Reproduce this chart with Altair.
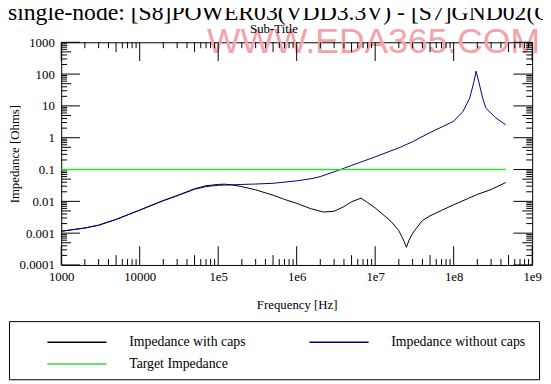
import altair as alt
import pandas as pd

# ---------------- data ----------------
freq_without = [1e3, 2e3, 3e3, 5e3, 1e4, 2e4, 3e4, 5e4, 7e4, 1e5, 1.5e5, 2e5, 3e5, 5e5,
                1e6, 1.57e6, 2e6, 3e6, 4.1e6, 5e6, 6.8e6, 1e7, 2e7, 3e7, 5e7, 1e8,
                1.32e8, 1.6e8, 1.81e8, 1.93e8, 2.09e8, 2.34e8, 2.57e8, 3.44e8, 4.6e8]
imp_without = [0.00115, 0.00145, 0.00178, 0.0027, 0.0053, 0.0105, 0.015, 0.024, 0.029, 0.032,
               0.033, 0.034, 0.035, 0.037, 0.044, 0.052, 0.06, 0.085, 0.112, 0.135, 0.177,
               0.25, 0.48, 0.75, 1.45, 3.3, 6.8, 17.6, 57, 123, 57, 17.6, 8.6, 4.2, 2.55]

freq_with = [1e3, 2e3, 3e3, 5e3, 1e4, 2e4, 3e4, 5e4, 7e4, 1e5, 1.2e5, 1.5e5, 2e5, 3e5, 5e5,
             7e5, 1e6, 1.5e6, 2.2e6, 3e6, 4e6, 5e6, 6.6e6, 8e6, 1e7, 1.3e7, 1.6e7, 2e7,
             2.3e7, 2.5e7, 2.7e7, 3e7, 4e7, 5e7, 7e7, 1e8, 2e8, 3e8, 4.6e8]
imp_with = [0.00115, 0.00145, 0.00178, 0.0027, 0.0053, 0.0106, 0.0152, 0.0248, 0.031, 0.034,
            0.0347, 0.033, 0.029, 0.023, 0.0156, 0.0115, 0.0087, 0.0059, 0.0046, 0.0049,
            0.0068, 0.0097, 0.0126, 0.0092, 0.0062, 0.0036, 0.0023, 0.0012, 0.0006, 0.00036,
            0.0006, 0.001, 0.0025, 0.0035, 0.0052, 0.0078, 0.0165, 0.0236, 0.039]

freq_target = [1e3, 4.6e8]
imp_target = [0.1, 0.1]

series_names = ["Impedance with caps", "Impedance without caps", "Target Impedance"]
series_colors = ["#000000", "#000080", "#33dd33"]

title_text = "single-node: [S8]POWER03(VDD3.3V) - [S7]GND02(GND)"
subtitle_text = "Sub-Title"
watermark_text = "WWW.EDA365.COM"
x_title = "Frequency [Hz]"
y_title = "Impedance [Ohms]"

x_major = [1e3, 1e4, 1e5, 1e6, 1e7, 1e8, 1e9]
y_major = [1e-4, 1e-3, 1e-2, 1e-1, 1, 10, 100, 1000]
x_mid = [5 * 10 ** e for e in range(3, 9)]
y_mid = [5 * 10.0 ** e for e in range(-4, 3)]
x_minor = [m * 10 ** e for e in range(3, 9) for m in (2, 3, 4, 6, 7, 8, 9)]
y_minor = [m * 10.0 ** e for e in range(-4, 3) for m in (2, 3, 4, 6, 7, 8, 9)]

# ---------------- tables ----------------
df = pd.concat([
    pd.DataFrame({"freq": freq_with, "imp": imp_with, "series": series_names[0]}),
    pd.DataFrame({"freq": freq_without, "imp": imp_without, "series": series_names[1]}),
], ignore_index=True)
df_target = pd.DataFrame({"freq": freq_target, "imp": imp_target, "series": series_names[2]})

SERIF = "Liberation Serif"
W, H = 478, 226
MAJOR, MID, MINOR = 19, 10, 6

xscale = alt.Scale(type="log", domain=[1e3, 1e9], nice=False)
yscale = alt.Scale(type="log", domain=[1e-4, 1e3], nice=False)

x_label_axis = alt.Axis(
    orient="bottom", values=x_major, ticks=False, tickSize=0, domain=False, grid=False,
    labelExpr="datum.value < 1e5 ? format(datum.value, 'd') : '1e' + format(log(datum.value) / LN10, '.0f')",
    labelPadding=6, labelFont=SERIF, labelFontSize=13, labelColor="black",
    labelFlush=False, labelOverlap=False,
    title=x_title, titleFont=SERIF, titleFontSize=13, titleFontWeight="normal",
    titleColor="black", titleX=W / 2, titleY=40, titleAlign="center", titleBaseline="middle")

y_label_axis = alt.Axis(
    orient="left", values=y_major, ticks=False, tickSize=0, domain=False, grid=False,
    labelExpr="format(datum.value, '~g')",
    labelPadding=7, labelFont=SERIF, labelFontSize=13, labelColor="black",
    labelFlush=False, labelOverlap=False,
    title=y_title, titleFont=SERIF, titleFontSize=13, titleFontWeight="normal",
    titleColor="black", titleX=-47, titleY=H / 2, titleAngle=-90,
    titleAlign="center", titleBaseline="middle")

legend = alt.Legend(
    orient="none", legendX=-53, legendY=286.5, columns=2, direction="horizontal", title=None,
    symbolType="M-28,0M229,0M0,12M0,0H60", symbolSize=4, symbolStrokeWidth=1.5,
    symbolOffset=21, symbolOpacity=1, labelOffset=76, labelFont=SERIF, labelFontSize=14,
    labelColor="black", labelLimit=300, labelBaseline="middle",
    padding=11, rowPadding=0, columnPadding=3, gridAlign="each")

color_scale = alt.Scale(domain=series_names, range=series_colors)

lines = alt.Chart(df).mark_line(strokeWidth=1).encode(
    x=alt.X("freq:Q", scale=xscale, axis=x_label_axis),
    y=alt.Y("imp:Q", scale=yscale, axis=y_label_axis),
    color=alt.Color("series:N", scale=color_scale, legend=legend),
)

target = alt.Chart(df_target).mark_line(strokeWidth=1.5, color=series_colors[2]).encode(
    x=alt.X("freq:Q", scale=xscale, axis=None),
    y=alt.Y("imp:Q", scale=yscale, axis=None),
)


def x_ticks(values, length, top):
    src = pd.DataFrame({"v": values})
    if top:
        ys = dict(y=alt.value(0), y2=alt.value(length))
    else:
        ys = dict(y=alt.value(H), y2=alt.value(H - length))
    return alt.Chart(src).mark_rule(color="black", strokeWidth=1).encode(
        x=alt.X("v:Q", scale=xscale, axis=None), **ys)


def y_ticks(values, length, right):
    src = pd.DataFrame({"v": values})
    if right:
        xs = dict(x=alt.value(W), x2=alt.value(W - length))
    else:
        xs = dict(x=alt.value(0), x2=alt.value(length))
    return alt.Chart(src).mark_rule(color="black", strokeWidth=1).encode(
        y=alt.Y("v:Q", scale=yscale, axis=None), **xs)


tick_layers = []
for vals, ln in ((x_major, MAJOR), (x_mid, MID), (x_minor, MINOR)):
    tick_layers.append(x_ticks(vals, ln, False))
    tick_layers.append(x_ticks(vals, ln, True))
for vals, ln in ((y_major, MAJOR), (y_mid, MID), (y_minor, MINOR)):
    tick_layers.append(y_ticks(vals, ln, False))
    tick_layers.append(y_ticks(vals, ln, True))

one = pd.DataFrame({"t": [0]})

# frame round the legend (decoration, in plot-relative pixels)
legend_box = alt.Chart(one).mark_rect(
    fill="white", stroke="black", strokeWidth=1,
).encode(x=alt.value(-52.5), x2=alt.value(485.5), y=alt.value(283.5), y2=alt.value(342.5))

watermark = alt.Chart(one).mark_text(
    text=watermark_text, align="left", baseline="alphabetic",
    font="Liberation Sans", fontSize=36, color="#f4a3aa",
).encode(x=alt.value(148), y=alt.value(11))

title = alt.Chart(one).mark_text(
    text=title_text, align="left", baseline="alphabetic", font=SERIF, fontSize=24,
    color="black",
).encode(x=alt.value(-54), y=alt.value(-23))

subtitle = alt.Chart(one).mark_text(
    text=subtitle_text, align="center", baseline="alphabetic", font=SERIF, fontSize=13,
    color="black",
).encode(x=alt.value(216), y=alt.value(-9))

chart = alt.layer(legend_box, lines, watermark, *tick_layers, target, title, subtitle).resolve_axis(
    x="independent", y="independent"
).properties(
    width=W, height=H,
    autosize=alt.AutoSizeParams(type="none"),
    padding={"left": 54, "top": 32, "right": 11, "bottom": 118},
    background="white",
).configure_view(stroke="black", strokeWidth=1)

chart.save("out.html", embed_options={"renderer": "svg", "actions": False})
